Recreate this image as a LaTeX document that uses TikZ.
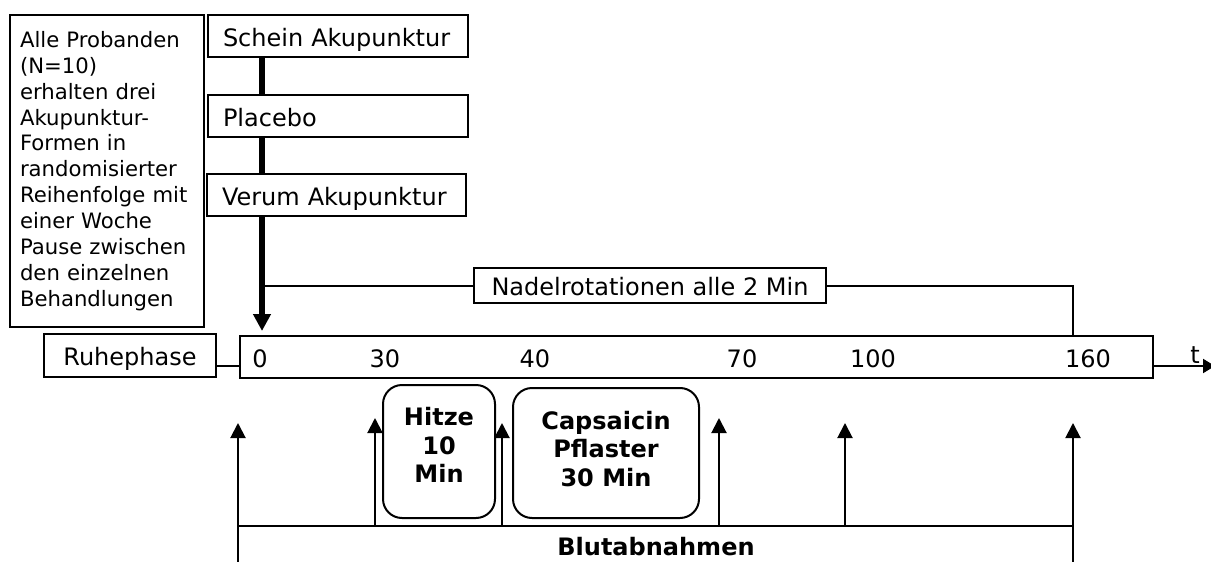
\documentclass[tikz,border=0pt]{standalone}
\usepackage{fontspec}
\setmainfont{DejaVu Sans}
\usetikzlibrary{arrows.meta}
\begin{document}
\begin{tikzpicture}[x=1pt,y=-1pt,
  every node/.style={inner sep=0pt,outer sep=0pt},
  box/.style={draw,line width=2pt,font=\fontsize{24}{29}\selectfont,text height=20pt,text depth=0pt},
  lbox/.style={box,align=left,inner xsep=15pt},
  rbox/.style={draw,line width=2pt,rounded corners=19pt},
  btxt/.style={font=\fontsize{24}{28.8}\bfseries\selectfont,align=center},
  ntxt/.style={font=\fontsize{24}{29}\selectfont,anchor=base},
  conn/.style={line width=2pt},
  thickline/.style={line width=5.5pt},
  uparrow/.style={line width=2pt,-{Triangle[width=15pt,length=15pt]}}
]
\useasboundingbox (0,0) rectangle (1211,562);

% info box
\node[draw,line width=2pt,anchor=north west,minimum width=194pt,minimum height=312pt,
  text width=174pt,inner xsep=10pt,align=left,font=\fontsize{21.2}{25.9}\selectfont]
  (info) at (10,15) {Alle Probanden\\(N=10)\\erhalten drei\\Akupunktur-\\Formen in\\randomisierter\\Reihenfolge mit\\einer Woche\\Pause zwischen\\den einzelnen\\Behandlungen};

% treatment boxes
\node[lbox,minimum width=260pt,minimum height=42pt,text width=230pt] (schein) at (338,36) {Schein Akupunktur};
\node[lbox,minimum width=260pt,minimum height=42pt,text width=230pt] (placebo) at (338,116) {Placebo};
\node[lbox,minimum width=259pt,minimum height=42pt,text width=229pt] (verum) at (336.5,195) {Verum Akupunktur};

\coordinate (tx) at (262,0);
\coordinate (zero) at (262,331);
\draw[thickline] (schein.south -| tx) -- (placebo.north -| tx);
\draw[thickline] (placebo.south -| tx) -- (verum.north -| tx);
\draw[thickline,-{Triangle[width=17pt,length=17pt]}] (verum.south -| tx) -- (zero);

% Nadelrotationen
\node[box,minimum width=352pt,minimum height=35pt,text height=19pt] (nadel) at (650,285.5) {Nadelrotationen alle 2 Min};
\coordinate (nr) at (1073,285.5);

% timeline
\node[box,minimum width=913pt,minimum height=42pt] (tl) at (696.5,357) {};
\node[box,minimum width=172pt,minimum height=43pt] (ruhe) at (130,355.5) {Ruhephase};
\draw[conn] ([yshift=-10.5pt]ruhe.east) -- ([yshift=-10.5pt]ruhe.east -| tl.west);
\draw[conn] (nadel.west) -- (nadel.west -| tx);
\draw[conn] (nadel.east) -- (nr) -- (nr |- tl.north);

\coordinate (tend) at (1215,366);
\draw[conn,-{Triangle[width=14pt,length=12pt]}] (tl.east |- tend) -- (tend);
\node[ntxt] (tlab) at (1195,363) {t};

\node[ntxt] (n0) at (260,367) {0};
\node[ntxt] (n30) at (385,367) {30};
\node[ntxt] (n40) at (535,367) {40};
\node[ntxt] (n70) at (742,367) {70};
\node[ntxt] (n100) at (873,367) {100};
\node[ntxt] (n160) at (1088,367) {160};

% stimulus boxes
\node[rbox,minimum width=112pt,minimum height=133pt] (hitze) at (439,451.5) {};
\node[btxt] (hitzetxt) at (439,445) {Hitze\\10\\Min};
\node[rbox,minimum width=186pt,minimum height=130pt] (caps) at (606,453) {};
\node[btxt] (capstxt) at (606,449) {Capsaicin\\Pflaster\\30 Min};

% Blutabnahmen
\coordinate (bl) at (238,526);
\coordinate (br) at (1073,526);
\draw[conn] (bl) -- (br);
\coordinate (b1) at (238,566);  \coordinate (t1) at (238,423);
\coordinate (b2) at (375,526);  \coordinate (t2) at (375,418);
\coordinate (b3) at (502,526);  \coordinate (t3) at (502,423);
\coordinate (b4) at (719,526);  \coordinate (t4) at (719,418);
\coordinate (b5) at (845,526);  \coordinate (t5) at (845,423);
\coordinate (b6) at (1073,566); \coordinate (t6) at (1073,423);
\foreach \i in {1,...,6} {\draw[uparrow] (b\i) -- (t\i);}
\node[btxt] (blut) at (656,547) {Blutabnahmen};
\end{tikzpicture}
\end{document}
